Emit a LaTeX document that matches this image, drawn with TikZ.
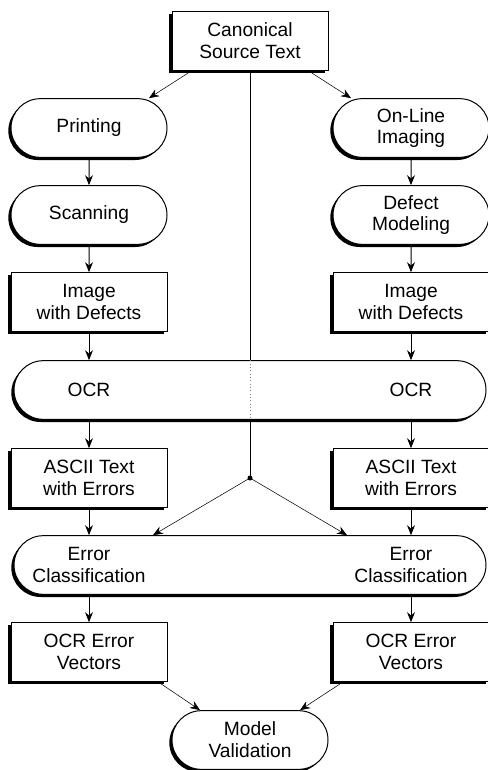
\documentclass[tikz,border=0pt]{standalone}
\usepackage{fontspec}
\setmainfont{Liberation Sans}
\usetikzlibrary{arrows.meta,positioning,calc,shapes.misc,shadows}

\begin{document}
\begin{tikzpicture}[x=0.75pt,y=-0.75pt,
    boxshadow/.style={drop shadow={shadow xshift=-2pt, shadow yshift=-2pt, opacity=1, fill=black}},
    txt/.style={align=center, inner sep=0pt, font=\fontsize{14.4}{16.4}\selectfont},
    box/.style={txt, draw, line width=0.75pt, fill=white, boxshadow, minimum width=117pt, minimum height=44pt},
    term/.style={box, rounded rectangle},
    wide/.style={term, minimum width=354pt},
    arrow/.style={-{Stealth[length=7.5pt, width=6pt, inset=2.5pt]}, line width=0.75pt},
    thinarrow/.style={arrow, line width=0.4pt}
]
\useasboundingbox (0,0) rectangle (487,770);

\node[box] (canon) at (250,41) {Canonical\\Source Text};

\node[term] (printL) at (89,128) {Printing};
\node[term] (online) at (411,128) {On-Line\\Imaging};

\node[term] (scan) at (89,215) {Scanning};
\node[term] (defect) at (411,215) {Defect\\Modeling};

\node[box] (imgL) at (89,302) {Image\\with Defects};
\node[box] (imgR) at (411,302) {Image\\with Defects};

\node[wide] (ocr) at (250,390) {};
\node[txt] (ocrL) at (89,390) {OCR};
\node[txt] (ocrR) at (411,390) {OCR};

\node[box] (ascL) at (89,478) {ASCII Text\\with Errors};
\node[box] (ascR) at (411,478) {ASCII Text\\with Errors};
\coordinate (hub) at (250,478);

\node[wide] (errc) at (250,565) {};
\node[txt] (errcL) at (89,565) {Error\\Classification};
\node[txt] (errcR) at (411,565) {Error\\Classification};

\node[box] (vecL) at (89,652) {OCR Error\\Vectors};
\node[box] (vecR) at (411,652) {OCR Error\\Vectors};

\node[term] (model) at (250,740) {Model\\Validation};

% source text to both branches
\draw[thinarrow] ([xshift=15pt]canon.south west) -- ([xshift=45pt]printL.north);
\draw[thinarrow] ([xshift=-15pt]canon.south east) -- ([xshift=-45pt]online.north);

\draw[line width=0.75pt] (canon.south) -- (canon.south |- ocr.north);
\draw[gray, dotted, line width=0.5pt] (canon.south |- ocr.north) -- (canon.south |- ocr.south);
\draw[line width=0.75pt] (canon.south |- ocr.south) -- (hub);
\fill (hub) circle (2.5);

\draw[arrow] (printL) -- (scan);
\draw[arrow] (scan) -- (imgL);
\draw[arrow] (online) -- (defect);
\draw[arrow] (defect) -- (imgR);

\draw[arrow] (imgL) -- (ocrL |- ocr.north);
\draw[arrow] (imgR) -- (ocrR |- ocr.north);
\draw[arrow] (ocrL |- ocr.south) -- (ascL);
\draw[arrow] (ocrR |- ocr.south) -- (ascR);

\draw[arrow] (ascL) -- (errcL |- errc.north);
\draw[arrow] (ascR) -- (errcR |- errc.north);
\draw[thinarrow] (hub) -- ([xshift=-72.75pt]errc.north);
\draw[thinarrow] (hub) -- ([xshift=72.75pt]errc.north);

\draw[arrow] (errcL |- errc.south) -- (vecL);
\draw[arrow] (errcR |- errc.south) -- (vecR);

\draw[thinarrow] ([xshift=-7pt]vecL.south east) -- ([xshift=-37.5pt]model.north);
\draw[thinarrow] ([xshift=8pt]vecR.south west) -- ([xshift=37.5pt]model.north);

\end{tikzpicture}
\end{document}
